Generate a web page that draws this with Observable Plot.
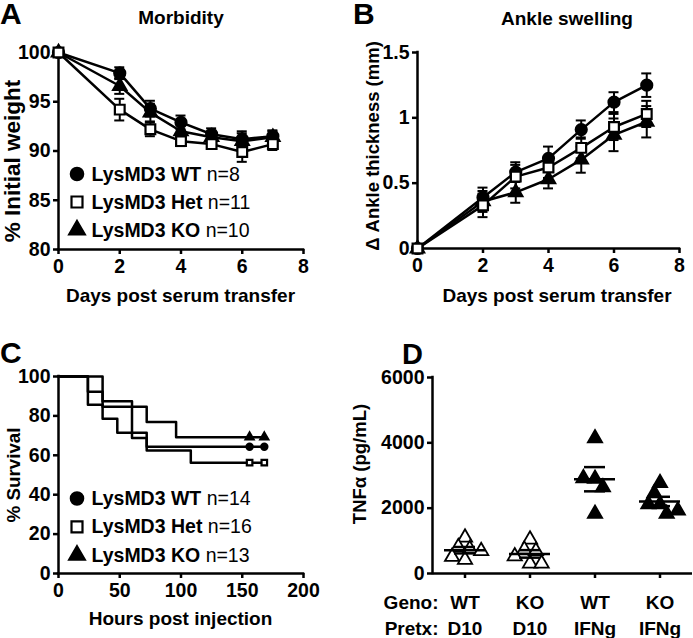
<!DOCTYPE html>
<html><head><meta charset="utf-8">
<script src="https://cdn.jsdelivr.net/npm/d3@7"></script>
<script src="https://cdn.jsdelivr.net/npm/@observablehq/plot@0.6"></script>
<style>
body{margin:0;background:#fff;}
#fig{position:relative;width:693px;height:638px;overflow:hidden;background:#fff;}
#fig > svg{position:absolute;}
</style></head><body><div id="fig"></div>
<script>
// ---------- Panel A: Morbidity (% initial weight) ----------
const days = [0, 2, 3, 4, 5, 6, 7];
const groupKeys = ["WT", "Het", "KO"];
const groupLabels = ["LysMD3 WT", "LysMD3 Het", "LysMD3 KO"];
const weightWT = [100, 97.9, 94.3, 92.9, 91.7, 91.2, 91.5];
const weightWTerr = [0, 0.6, 0.8, 0.7, 0.6, 0.8, 0.6];
const weightHet = [100, 94.2, 92.2, 91.0, 90.7, 89.9, 90.7];
const weightHetErr = [0, 1.1, 0.7, 0.5, 0.4, 1.0, 0.6];
const weightKO = [100, 96.6, 93.9, 92.0, 91.4, 91.0, 91.4];
const weightKOErr = [0, 0.8, 0.9, 0.7, 0.6, 0.8, 0.6];
const nA = [8, 11, 10];
const xTicksA = [0, 2, 4, 6, 8];
const yTicksA = [80, 85, 90, 95, 100];

// ---------- Panel B: Ankle swelling ----------
const ankleWT = [0, 0.39, 0.585, 0.69, 0.91, 1.12, 1.25];
const ankleWTerr = [0, 0.076, 0.075, 0.09, 0.07, 0.076, 0.09];
const ankleHet = [0, 0.33, 0.55, 0.62, 0.77, 0.93, 1.03];
const ankleHetErr = [0, 0.09, 0.09, 0.08, 0.08, 0.1, 0.1];
const ankleKO = [0, 0.36, 0.43, 0.53, 0.68, 0.87, 0.97];
const ankleKOErr = [0, 0.08, 0.08, 0.07, 0.1, 0.125, 0.12];
const yTicksB = [0, 0.5, 1, 1.5];

// ---------- Panel C: Survival ----------
const survTimesWT = [0, 24, 36, 48, 72, 168];
const survWT = [100, 85.7, 78.6, 71.4, 64.3, 64.3];
const survTimesHet = [0, 36, 60, 72, 108, 168];
const survHet = [100, 87.5, 68.75, 62.5, 56.25, 56.25];
const survTimesKO = [0, 24, 36, 72, 96, 168];
const survKO = [100, 92.3, 84.6, 76.9, 69.2, 69.2];
const censorTimes = [156, 168];
const nC = [14, 16, 13];
const xTicksC = [0, 50, 100, 150, 200];
const yTicksC = [0, 20, 40, 60, 80, 100];

// ---------- Panel D: TNFa ----------
const dGroups = ["WT D10", "KO D10", "WT IFNg", "KO IFNg"];
const dGeno = ["WT", "KO", "WT", "KO"];
const dPretx = ["D10", "D10", "IFNg", "IFNg"];
const tnfWTD10 = [1100, 810, 750, 690, 510, 420];
const tnfKOD10 = [1040, 730, 690, 530, 305, 305];
const tnfWTIFNg = [4140, 2900, 2920, 2640, 1830];
const tnfKOIFNg = [2770, 2460, 2120, 2120, 1830, 1930];
const rowLabels = ["Geno:", "Pretx:"];
const yTicksD = [0, 2000, 4000, 6000];

// ---------- helpers ----------
const FONT = '"Liberation Sans", Arial, Helvetica, sans-serif';
const baseStyle = {fontFamily: FONT, fontSize: "19.5px", fontWeight: "bold", background: "transparent", color: "black", overflow: "visible"};
const symbolOf = {WT: "circle", Het: "square", KO: "triangle"};
const fillOf = {WT: "black", Het: "white", KO: "black"};
const rOf = {WT: 5.5, Het: 5.5, KO: 4.9};
const AX = 2.5;

function tidy(series) {
  const rows = [];
  series.forEach(s => days.forEach((d, i) => rows.push({group: s.key, day: d, v: s.v[i], e: s.e[i]})));
  return rows;
}
function seriesMarks(rows) {
  const marks = [];
  const order = ["WT", "KO", "Het"];
  for (const k of order) marks.push(Plot.line(rows.filter(d => d.group === k), {x: "day", y: "v", stroke: "black", strokeWidth: 2.5}));
  const eb = rows.filter(d => d.e > 0);
  marks.push(Plot.ruleX(eb, {x: "day", y1: d => d.v - d.e, y2: d => d.v + d.e, stroke: "black", strokeWidth: 2}));
  marks.push(Plot.ruleY(eb, {x1: "day", x2: "day", y: d => d.v + d.e, insetLeft: -5, insetRight: -5, stroke: "black", strokeWidth: 2}));
  marks.push(Plot.ruleY(eb, {x1: "day", x2: "day", y: d => d.v - d.e, insetLeft: -5, insetRight: -5, stroke: "black", strokeWidth: 2}));
  for (const k of order) marks.push(Plot.dot(rows.filter(d => d.group === k), {x: "day", y: "v", symbol: symbolOf[k], r: rOf[k], fill: fillOf[k], stroke: "black", strokeWidth: 2.2}));
  return marks;
}
function place(svg, left, top) {
  svg.style.position = "absolute"; svg.style.left = left + "px"; svg.style.top = top + "px";
  document.getElementById("fig").appendChild(svg);
}

// ---------- Panel A ----------
const rowsA = tidy([
  {key: "WT", v: weightWT, e: weightWTerr},
  {key: "Het", v: weightHet, e: weightHetErr},
  {key: "KO", v: weightKO, e: weightKOErr}
]);
place(Plot.plot({
  width: 340, height: 305, marginLeft: 58, marginRight: 37, marginTop: 52, marginBottom: 56,
  x: {domain: [0, 8], label: null}, y: {domain: [80, 100], label: null},
  style: baseStyle,
  marks: [
    Plot.axisX({ticks: xTicksA, tickSize: 5, tickPadding: 5, strokeWidth: AX, label: null}),
    Plot.axisY({ticks: yTicksA, tickSize: 5, tickPadding: 3, strokeWidth: AX, label: null}),
    Plot.ruleX([0], {strokeWidth: AX, strokeLinecap: "square"}),
    Plot.ruleY([80], {strokeWidth: AX, strokeLinecap: "square"}),
    ...seriesMarks(rowsA)
  ]
}), 0, 0);

// ---------- Panel B ----------
const rowsB = tidy([
  {key: "WT", v: ankleWT, e: ankleWTerr},
  {key: "Het", v: ankleHet, e: ankleHetErr},
  {key: "KO", v: ankleKO, e: ankleKOErr}
]);
place(Plot.plot({
  width: 353, height: 305, marginLeft: 77, marginRight: 14, marginTop: 52, marginBottom: 57,
  x: {domain: [0, 8], label: null}, y: {domain: [0, 1.5], label: null},
  style: baseStyle,
  marks: [
    Plot.axisX({ticks: xTicksA, tickSize: 5, tickPadding: 5, strokeWidth: AX, label: null}),
    Plot.axisY({ticks: yTicksB, tickSize: 5, tickPadding: 3, strokeWidth: AX, label: null, tickFormat: d3.format("~g")}),
    Plot.ruleX([0], {strokeWidth: AX, strokeLinecap: "square"}),
    Plot.ruleY([0], {strokeWidth: AX, strokeLinecap: "square"}),
    ...seriesMarks(rowsB)
  ]
}), 340, 0);

// ---------- Panel C ----------
const survSeries = [
  {key: "WT", t: survTimesWT, s: survWT},
  {key: "Het", t: survTimesHet, s: survHet},
  {key: "KO", t: survTimesKO, s: survKO}
];
const rowsC = [];
survSeries.forEach(c => c.t.forEach((t, i) => rowsC.push({group: c.key, t, s: c.s[i]})));
const censC = [];
["WT", "KO", "Het"].forEach(k => {
  const c = survSeries.find(d => d.key === k);
  censorTimes.forEach(t => censC.push({group: k, t, s: c.s[c.s.length - 1]}));
});
place(Plot.plot({
  width: 340, height: 338, marginLeft: 58, marginRight: 37, marginTop: 76, marginBottom: 65,
  x: {domain: [0, 200], label: null}, y: {domain: [0, 100], label: null},
  style: baseStyle,
  marks: [
    Plot.axisX({ticks: xTicksC, tickSize: 5, tickPadding: 5, strokeWidth: AX, label: null}),
    Plot.axisY({ticks: yTicksC, tickSize: 5, tickPadding: 3, strokeWidth: AX, label: null}),
    Plot.ruleX([0], {strokeWidth: AX, strokeLinecap: "square"}),
    Plot.ruleY([0], {strokeWidth: AX, strokeLinecap: "square"}),
    Plot.line(rowsC, {x: "t", y: "s", z: "group", curve: "step-after", stroke: "black", strokeWidth: 2.5}),
    Plot.dot(censC, {x: "t", y: "s", symbol: d => symbolOf[d.group], fill: d => fillOf[d.group], r: d => rOf[d.group] + 0.6, stroke: "black", strokeWidth: 2.2})
  ]
}), 0, 300);

// ---------- Panel D ----------
const tnfSets = [tnfWTD10, tnfKOD10, tnfWTIFNg, tnfKOIFNg];
const rowsD = [];
tnfSets.forEach((vals, i) => vals.forEach(v => rowsD.push({g: dGroups[i], v, open: dPretx[i] === "D10"})));
const statsD = tnfSets.map((vals, i) => {
  const m = d3.mean(vals), se = d3.deviation(vals) / Math.sqrt(vals.length);
  return {g: dGroups[i], mean: m, lo: m - se, hi: m + se};
});
place(Plot.plot({
  width: 353, height: 338, marginLeft: 91, marginRight: 0, marginTop: 77, marginBottom: 65,
  fx: {domain: dGroups, padding: 0, label: null},
  x: {domain: [0, 1], axis: null},
  y: {domain: [0, 6000], label: null},
  style: baseStyle,
  marks: [
    Plot.axisY({ticks: yTicksD, tickSize: 5, tickPadding: 3, strokeWidth: AX, label: null, tickFormat: d => String(d)}),
    Plot.axisFx({anchor: "bottom", tickSize: 5, tickPadding: 12, strokeWidth: AX, label: null, lineHeight: 1.36, fontSize: 19,
      tickFormat: g => dGeno[dGroups.indexOf(g)] + "\n" + dPretx[dGroups.indexOf(g)]}),
    Plot.text([rowLabels.join("\n")], {fx: () => dGroups[0], text: d => d, frameAnchor: "bottom-left", textAnchor: "end", lineAnchor: "top", dx: 6, dy: 17, lineHeight: 1.36, fontSize: 19}),
    Plot.ruleY([0], {strokeWidth: AX}),
    Plot.ruleX([{g: dGroups[0]}], {fx: "g", x: () => 0, strokeWidth: AX, strokeLinecap: "square"}),
    Plot.dot(rowsD, Plot.dodgeX("middle", {fx: "g", y: "v", r: 5.3, symbol: "triangle", fill: d => d.open ? "white" : "black", stroke: "black", strokeWidth: 1.8, padding: 0})),
    Plot.ruleY(statsD, {fx: "g", y: "mean", insetLeft: 12, insetRight: 12, stroke: "black", strokeWidth: 2.5}),
    Plot.ruleY(statsD, {fx: "g", y: "hi", insetLeft: 22, insetRight: 22, stroke: "black", strokeWidth: 2.5}),
    Plot.ruleY(statsD, {fx: "g", y: "lo", insetLeft: 22, insetRight: 22, stroke: "black", strokeWidth: 2.5}),
    Plot.ruleX(statsD, {fx: "g", y1: "lo", y2: "hi", stroke: "black", strokeWidth: 2.5})
  ]
}), 340, 300);

// ---------- annotation overlay (panel letters, titles, axis titles, legends) ----------
const ov = d3.select("#fig").append("svg")
  .attr("width", 693).attr("height", 638)
  .style("position", "absolute").style("left", "0px").style("top", "0px")
  .style("font-family", FONT).style("font-weight", "bold").style("overflow", "visible");
function label(x, y, s, size, anchor = "start", rotate = false) {
  const t = ov.append("text").attr("font-size", size).attr("text-anchor", anchor).text(s);
  if (rotate) t.attr("transform", `translate(${x},${y}) rotate(-90)`);
  else t.attr("x", x).attr("y", y);
  return t;
}
label(0, 24, "A", 30); label(353, 24, "B", 30); label(0, 363, "C", 30); label(402, 364, "D", 29);
label(181, 24, "Morbidity", 19, "middle");
label(567, 25, "Ankle swelling", 19, "middle");
label(180.5, 301.5, "Days post serum transfer", 19, "middle");
label(557, 301.5, "Days post serum transfer", 19, "middle");
label(180.5, 625, "Hours post injection", 19, "middle");
label(20, 161, "% Initial weight", 22.5, "middle", true);
label(379, 146, "\u0394 Ankle thickness (mm)", 18.5, "middle", true);
label(20, 475, "% Survival", 18.8, "middle", true);
label(366, 464, "TNF\u03b1 (pg/mL)", 18.5, "middle", true);

const d3sym = {circle: d3.symbolCircle, square: d3.symbolSquare, triangle: d3.symbolTriangle};
function legend(x0, baselines, ns) {
  groupKeys.forEach((k, i) => {
    const r = k === "KO" ? 5.8 : 6.2;
    ov.append("path").attr("d", d3.symbol(d3sym[symbolOf[k]], Math.PI * r * r)())
      .attr("transform", `translate(${x0},${baselines[i] - 6.5})`)
      .attr("fill", fillOf[k]).attr("stroke", "black").attr("stroke-width", 2.2);
    const t = ov.append("text").attr("x", x0 + 14.5).attr("y", baselines[i]).attr("font-size", 19.5);
    t.append("tspan").attr("font-weight", "bold").text(groupLabels[i]);
    t.append("tspan").attr("font-weight", "normal").text(" n=" + ns[i]);
  });
}
legend(77, [180.5, 208.5, 236.5], nA);
legend(77, [505, 533.3, 561.7], nC);
</script></body></html>
